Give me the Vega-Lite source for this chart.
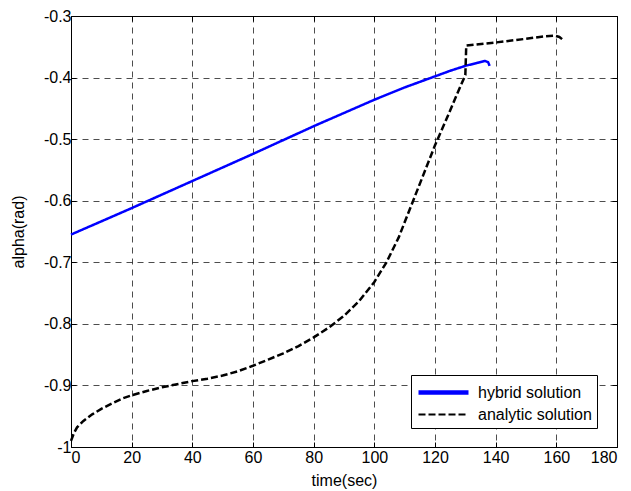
{
  "$schema": "https://vega.github.io/schema/vega-lite/v6.json",
  "width": 546,
  "height": 431,
  "autosize": {"type": "none"},
  "padding": {"left": 71, "top": 16, "right": 14, "bottom": 44},
  "background": "white",
  "config": {
    "view": {"stroke": "black", "strokeWidth": 1},
    "font": "Liberation Sans",
    "axis": {
      "labelFont": "Liberation Sans", "labelFontSize": 16, "labelColor": "black",
      "titleFont": "Liberation Sans", "titleFontSize": 16, "titleFontWeight": "normal", "titleColor": "black",
      "domain": false, "tickColor": "black", "tickSize": -5, "tickWidth": 1,
      "gridColor": "black", "gridOpacity": 1, "gridWidth": 0.7, "gridDash": [6, 5]
    }
  },
  "datasets": {
    "d": [
      {"t": 0, "v": -0.655, "s": "hybrid solution"},
      {"t": 20, "v": -0.612, "s": "hybrid solution"},
      {"t": 40, "v": -0.568, "s": "hybrid solution"},
      {"t": 60, "v": -0.524, "s": "hybrid solution"},
      {"t": 80, "v": -0.479, "s": "hybrid solution"},
      {"t": 100, "v": -0.436, "s": "hybrid solution"},
      {"t": 110, "v": -0.416, "s": "hybrid solution"},
      {"t": 120, "v": -0.398, "s": "hybrid solution"},
      {"t": 125, "v": -0.389, "s": "hybrid solution"},
      {"t": 130, "v": -0.381, "s": "hybrid solution"},
      {"t": 134, "v": -0.376, "s": "hybrid solution"},
      {"t": 136.5, "v": -0.373, "s": "hybrid solution"},
      {"t": 137.5, "v": -0.375, "s": "hybrid solution"},
      {"t": 138, "v": -0.381, "s": "hybrid solution"},
      {"t": 0, "v": -0.99, "s": "analytic solution"},
      {"t": 1, "v": -0.977, "s": "analytic solution"},
      {"t": 2, "v": -0.968, "s": "analytic solution"},
      {"t": 4, "v": -0.958, "s": "analytic solution"},
      {"t": 7, "v": -0.947, "s": "analytic solution"},
      {"t": 10, "v": -0.938, "s": "analytic solution"},
      {"t": 14, "v": -0.928, "s": "analytic solution"},
      {"t": 17, "v": -0.921, "s": "analytic solution"},
      {"t": 20, "v": -0.916, "s": "analytic solution"},
      {"t": 25, "v": -0.909, "s": "analytic solution"},
      {"t": 30, "v": -0.903, "s": "analytic solution"},
      {"t": 35, "v": -0.898, "s": "analytic solution"},
      {"t": 40, "v": -0.893, "s": "analytic solution"},
      {"t": 45, "v": -0.889, "s": "analytic solution"},
      {"t": 50, "v": -0.884, "s": "analytic solution"},
      {"t": 55, "v": -0.877, "s": "analytic solution"},
      {"t": 60, "v": -0.868, "s": "analytic solution"},
      {"t": 65, "v": -0.858, "s": "analytic solution"},
      {"t": 70, "v": -0.848, "s": "analytic solution"},
      {"t": 75, "v": -0.836, "s": "analytic solution"},
      {"t": 80, "v": -0.822, "s": "analytic solution"},
      {"t": 85, "v": -0.806, "s": "analytic solution"},
      {"t": 90, "v": -0.787, "s": "analytic solution"},
      {"t": 95, "v": -0.763, "s": "analytic solution"},
      {"t": 100, "v": -0.732, "s": "analytic solution"},
      {"t": 104, "v": -0.7, "s": "analytic solution"},
      {"t": 108, "v": -0.66, "s": "analytic solution"},
      {"t": 112, "v": -0.61, "s": "analytic solution"},
      {"t": 116, "v": -0.56, "s": "analytic solution"},
      {"t": 120, "v": -0.51, "s": "analytic solution"},
      {"t": 124, "v": -0.465, "s": "analytic solution"},
      {"t": 127, "v": -0.43, "s": "analytic solution"},
      {"t": 130, "v": -0.396, "s": "analytic solution"},
      {"t": 130.3, "v": -0.348, "s": "analytic solution"},
      {"t": 140, "v": -0.343, "s": "analytic solution"},
      {"t": 150, "v": -0.337, "s": "analytic solution"},
      {"t": 156, "v": -0.333, "s": "analytic solution"},
      {"t": 159.5, "v": -0.332, "s": "analytic solution"},
      {"t": 161, "v": -0.334, "s": "analytic solution"},
      {"t": 162.5, "v": -0.34, "s": "analytic solution"}
    ]
  },
  "data": {"name": "d"},
  "resolve": {"axis": {"x": "independent", "y": "independent"}},
  "layer": [
    {
      "mark": {"type": "point", "opacity": 0},
      "encoding": {
        "x": {"field": "t", "type": "quantitative", "scale": {"domain": [0, 180], "nice": false, "zero": false},
              "axis": {"orient": "top", "values": [0,20,40,60,80,100,120,140,160,180], "labels": false, "grid": false, "title": null}},
        "y": {"field": "v", "type": "quantitative", "scale": {"domain": [-1, -0.3], "nice": false, "zero": false},
              "axis": {"orient": "right", "values": [-1,-0.9,-0.8,-0.7,-0.6,-0.5,-0.4,-0.3], "labels": false, "grid": false, "title": null}}
      }
    },
    {
      "mark": {"type": "line", "strokeWidth": 2.5},
      "encoding": {
        "x": {"field": "t", "type": "quantitative", "scale": {"domain": [0, 180], "nice": false, "zero": false},
              "axis": {"orient": "bottom", "values": [0,20,40,60,80,100,120,140,160,180], "grid": true, "title": "time(sec)", "labelPadding": 7, "titlePadding": 7}},
        "y": {"field": "v", "type": "quantitative", "scale": {"domain": [-1, -0.3], "nice": false, "zero": false},
              "axis": {"orient": "left", "values": [-1,-0.9,-0.8,-0.7,-0.6,-0.5,-0.4,-0.3], "grid": true, "title": "alpha(rad)", "labelPadding": 5, "titlePadding": 17,
                       "labelExpr": "toString(round(datum.value*10)/10)"}},
        "strokeWidth": {"field": "s", "type": "nominal",
                  "scale": {"domain": ["hybrid solution", "analytic solution"], "range": [4.5, 2.2]}, "legend": null},
        "color": {"field": "s", "type": "nominal",
                  "scale": {"domain": ["hybrid solution", "analytic solution"], "range": ["#0000ff", "#000000"]},
                  "legend": {"title": null, "orient": "none", "legendX": 340, "legendY": 359,
                             "fillColor": "white", "strokeColor": "black", "padding": 5,
                             "symbolType": "M-2.5,0H2.5", "symbolSize": 400, "symbolStrokeWidth": 2.5, "symbolOffset": 15,
                             "labelFont": "Liberation Sans", "labelFontSize": 16, "labelColor": "black",
                             "rowPadding": 1, "labelOffset": 22}},
        "strokeDash": {"field": "s", "type": "nominal",
                  "scale": {"domain": ["hybrid solution", "analytic solution"], "range": [[1, 0], [7, 3]]},
                  "legend": {"title": null, "orient": "none", "legendX": 340, "legendY": 359,
                             "fillColor": "white", "strokeColor": "black", "padding": 5,
                             "symbolType": "M-2.5,0H2.5", "symbolSize": 400, "symbolStrokeWidth": 2.5, "symbolOffset": 15,
                             "labelFont": "Liberation Sans", "labelFontSize": 16, "labelColor": "black",
                             "rowPadding": 1, "labelOffset": 22}}
      }
    }
  ]
}
